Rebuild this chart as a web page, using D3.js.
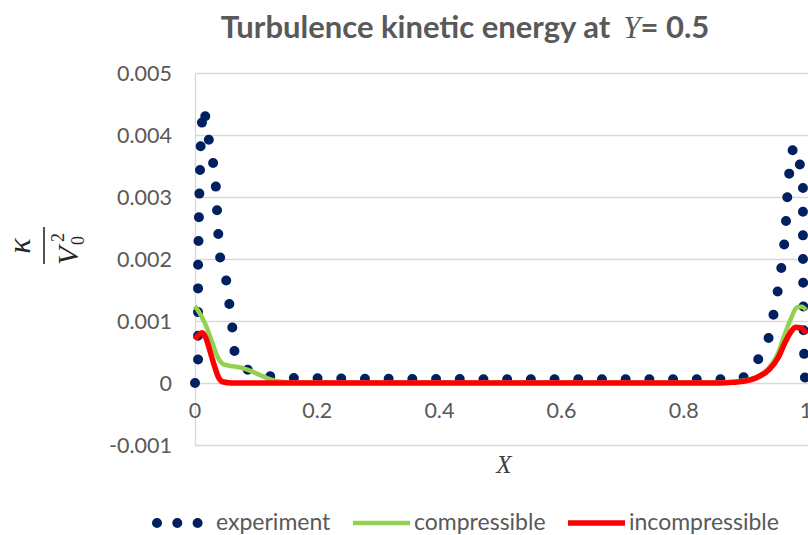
<!DOCTYPE html>
<html>
<head>
<meta charset="utf-8">
<script src="https://cdn.jsdelivr.net/npm/d3@7"></script>
<style>
  body { margin: 0; background: #fff; }
  svg { display: block; }
</style>
</head>
<body>
<svg id="chart" width="808" height="535"></svg>
<script>
// Axis ticks
const xTicks = [0, 0.2, 0.4, 0.6, 0.8, 1];
const xTickLabels = ["0", "0.2", "0.4", "0.6", "0.8", "1"];
const yTicks = [-0.001, 0, 0.001, 0.002, 0.003, 0.004, 0.005];
const yTickLabels = ["-0.001", "0", "0.001", "0.002", "0.003", "0.004", "0.005"];

// Series names (legend order)
const seriesNames = ["experiment", "compressible", "incompressible"];

// Measured profile (X, k/V0^2)
const experimentX = [0, 0.005, 0.005, 0.007, 0.010, 0.0147, 0.023, 0.0295, 0.034, 0.036, 0.038, 0.041,
  0.051, 0.056, 0.061, 0.064, 0.072, 0.085, 0.11, 0.15, 0.25, 0.5, 0.8, 0.87, 0.892, 0.905, 0.918,
  0.938, 0.946, 0.953, 0.959, 0.964, 0.967, 0.969, 0.972, 0.979, 0.989, 0.995, 0.995, 0.996, 0.998, 1.0];
const experimentY = [0, 0.00037, 0.0019, 0.0030, 0.0041, 0.00444, 0.0039, 0.00356, 0.00318, 0.0028, 0.00242, 0.00203,
  0.00166, 0.00129, 0.0009, 0.00053, 0.00033, 0.00022, 0.00012, 0.00008, 0.00007, 0.00006, 0.00006, 0.00006, 0.00006, 0.00013, 0.00031,
  0.00069, 0.00106, 0.00144, 0.00181, 0.00219, 0.00256, 0.00295, 0.00334, 0.00382, 0.00358, 0.00323, 0.0021, 0.0008, 0.0001, 0];

// Compressible model
const compressibleX = [0, 0.008, 0.016, 0.027, 0.038, 0.045, 0.055, 0.074, 0.09, 0.106, 0.12, 0.135, 0.16, 0.2,
  0.5, 0.85, 0.88, 0.9, 0.92, 0.94, 0.955, 0.965, 0.975, 0.985, 0.993, 1.0];
const compressibleY = [0.00124, 0.00112, 0.00097, 0.00069, 0.0004, 0.00031, 0.00028, 0.00025, 0.0002, 0.00013, 0.00007, 0.00003, 0.00001, 0.00001,
  0.00001, 0.00001, 0.00002, 0.00004, 0.0001, 0.00025, 0.0005, 0.00078, 0.00103, 0.00122, 0.00123, 0.00118];

// Incompressible model
const incompressibleX = [0, 0.006, 0.012, 0.018, 0.025, 0.032, 0.038, 0.045, 0.06, 0.5, 0.86, 0.88, 0.9, 0.92,
  0.94, 0.955, 0.965, 0.975, 0.983, 0.992, 1.0];
const incompressibleY = [0.0007, 0.00078, 0.00081, 0.00072, 0.0005, 0.00027, 0.0001, 0.00002, 0, 0, 0, 0.00001, 0.00003, 0.00009,
  0.00022, 0.00042, 0.00064, 0.00082, 0.0009, 0.00089, 0.0008];

const FONT = "Lato, 'Open Sans', sans-serif";
const MATH = "'Liberation Serif', 'DejaVu Serif', serif";
const GREY = "#595959";

const svg = d3.select("#chart");

const x = d3.scaleLinear().domain([0, 1]).range([195, 806]);
const y = d3.scaleLinear().domain([-0.001, 0.005]).range([445, 73]);

// Horizontal gridlines
svg.append("g").selectAll("line").data(yTicks).join("line")
  .attr("x1", x(0)).attr("x2", 808)
  .attr("y1", d => Math.round(y(d)) + 0.5).attr("y2", d => Math.round(y(d)) + 0.5)
  .attr("stroke", "#d9d9d9").attr("stroke-width", 1.3);

// Vertical axis line
svg.append("line")
  .attr("x1", x(0) + 0.5).attr("x2", x(0) + 0.5)
  .attr("y1", y(0.005)).attr("y2", y(-0.001))
  .attr("stroke", "#d9d9d9").attr("stroke-width", 1.3);

// Y tick labels
svg.append("g").selectAll("text").data(yTicks).join("text")
  .attr("x", 172).attr("y", d => y(d)).attr("dy", "0.36em")
  .attr("text-anchor", "end")
  .attr("font-family", FONT).attr("font-size", 21.5).attr("fill", GREY)
  .text((d, i) => yTickLabels[i]);

// X tick labels (below the zero line)
svg.append("g").selectAll("text").data(xTicks).join("text")
  .attr("x", d => x(d)).attr("y", y(0) + 27).attr("dy", "0.36em")
  .attr("text-anchor", "middle")
  .attr("font-family", FONT).attr("font-size", 21.5).attr("fill", GREY)
  .text((d, i) => xTickLabels[i]);

// Series
const pts = (xs, ys) => xs.map((v, i) => [v, ys[i]]);
const lineLinear = d3.line().x(d => x(d[0])).y(d => y(d[1]));
const lineSmooth = d3.line().x(d => x(d[0])).y(d => y(d[1])).curve(d3.curveMonotoneX);

svg.append("path")
  .attr("d", lineLinear(pts(experimentX, experimentY)))
  .attr("fill", "none").attr("stroke", "#002060").attr("stroke-width", 10)
  .attr("stroke-linecap", "round").attr("stroke-linejoin", "round")
  .attr("stroke-dasharray", "0 23.7");

svg.append("path")
  .attr("d", lineSmooth(pts(compressibleX, compressibleY)))
  .attr("fill", "none").attr("stroke", "#92d050").attr("stroke-width", 4.5)
  .attr("stroke-linejoin", "round");

svg.append("path")
  .attr("d", lineSmooth(pts(incompressibleX, incompressibleY)))
  .attr("fill", "none").attr("stroke", "#ff0000").attr("stroke-width", 5.5)
  .attr("stroke-linejoin", "round");

// Title
const title = svg.append("text")
  .attr("x", 465).attr("y", 38).attr("text-anchor", "middle")
  .attr("font-family", FONT).attr("font-weight", "bold").attr("font-size", 31).attr("fill", GREY);
title.append("tspan").text("Turbulence kinetic energy at");
title.append("tspan").attr("dx", 13).attr("font-family", MATH).attr("font-style", "italic")
  .attr("font-weight", "normal").text("Y");
title.append("tspan").text("= 0.5");

// X axis title
svg.append("text")
  .attr("x", 504).attr("y", 473).attr("text-anchor", "middle")
  .attr("font-family", MATH).attr("font-style", "italic").attr("font-size", 25).attr("fill", "#404040")
  .text("X");

// Y axis title: fraction kappa over V0 squared, rotated
const yl = svg.append("g").attr("transform", "translate(44,246) rotate(-90)").attr("fill", "#262626");
yl.append("text").attr("x", 0).attr("y", -14).attr("text-anchor", "middle")
  .attr("font-family", MATH).attr("font-style", "italic").attr("font-size", 32).text("κ");
yl.append("line").attr("x1", -18).attr("x2", 19).attr("y1", 0).attr("y2", 0)
  .attr("stroke", "#262626").attr("stroke-width", 1.6);
yl.append("text").attr("x", -19).attr("y", 34)
  .attr("font-family", MATH).attr("font-style", "italic").attr("font-size", 30).text("V");
yl.append("text").attr("x", 1).attr("y", 40)
  .attr("font-family", MATH).attr("font-size", 18).text("0");
yl.append("text").attr("x", 4).attr("y", 20)
  .attr("font-family", MATH).attr("font-size", 18).text("2");

// Legend
const legY = 522;
const leg = svg.append("g");
leg.append("line").attr("x1", 157).attr("x2", 198).attr("y1", legY + 1).attr("y2", legY + 1)
  .attr("stroke", "#002060").attr("stroke-width", 10).attr("stroke-linecap", "round")
  .attr("stroke-dasharray", "0 20.3");
leg.append("text").attr("x", 216).attr("y", legY).attr("dy", "0.36em")
  .attr("font-family", FONT).attr("font-size", 23).attr("fill", GREY).text(seriesNames[0]);
leg.append("line").attr("x1", 353).attr("x2", 410).attr("y1", legY + 1).attr("y2", legY + 1)
  .attr("stroke", "#92d050").attr("stroke-width", 4.5);
leg.append("text").attr("x", 414).attr("y", legY).attr("dy", "0.36em")
  .attr("font-family", FONT).attr("font-size", 23).attr("fill", GREY).text(seriesNames[1]);
leg.append("line").attr("x1", 568).attr("x2", 625).attr("y1", legY + 1).attr("y2", legY + 1)
  .attr("stroke", "#ff0000").attr("stroke-width", 5.5);
leg.append("text").attr("x", 629).attr("y", legY).attr("dy", "0.36em")
  .attr("font-family", FONT).attr("font-size", 23).attr("fill", GREY).text(seriesNames[2]);
</script>
</body>
</html>
